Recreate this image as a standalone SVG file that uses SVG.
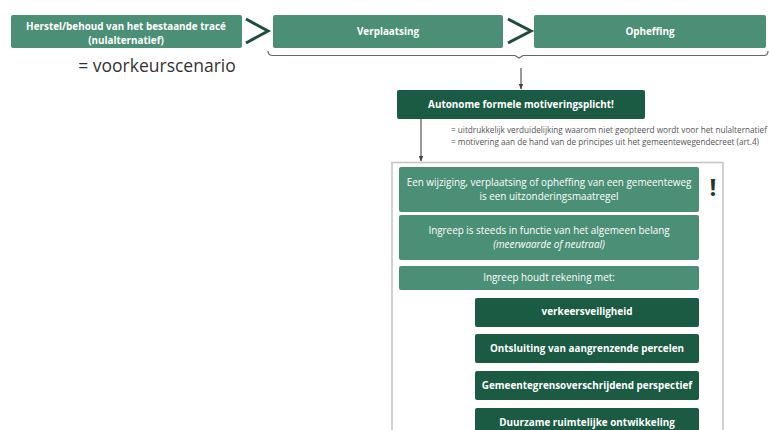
<svg xmlns="http://www.w3.org/2000/svg" width="769" height="430" viewBox="0 0 769 430">
<defs>
<style>
.mid{fill:#4b8f77;}
.dark{fill:#1b5a43;}
.t{font-family:"Open Sans","Liberation Sans",sans-serif;fill:#ffffff;text-anchor:middle;}
.b{font-weight:bold;font-size:9.9px;}
.r{font-size:9.9px;}
.small{font-family:"Open Sans","Liberation Sans",sans-serif;font-size:8.2px;fill:#555;}
.gt{fill:none;stroke:#1f4d3c;stroke-width:3;}
.con{fill:none;stroke:#555;stroke-width:1.2;}
</style>
<marker id="ah" viewBox="0 0 10 10" refX="9" refY="5" markerWidth="6" markerHeight="6" orient="auto" markerUnits="userSpaceOnUse">
<path d="M0,1 L10,5 L0,9 z" fill="#444"/>
</marker>
</defs>
<rect width="769" height="430" fill="#ffffff"/>

<g id="herstel">
<rect class="mid" x="11" y="15" width="231" height="33" rx="2"/>
<text class="t b" x="126" y="29.5">Herstel/behoud van het bestaande tracé</text>
<text class="t b" x="126" y="43.5">(nulalternatief)</text>
</g>
<g id="voorkeur">
<text x="157" y="72" font-family="'Open Sans','Liberation Sans',sans-serif" font-size="17.5" fill="#333" text-anchor="middle">= voorkeurscenario</text>
</g>
<g id="gt1"><path class="gt" d="M246,19 L268,31 L246,43"/></g>
<g id="verplaatsing">
<rect class="mid" x="273" y="15" width="230" height="33" rx="2"/>
<text class="t b" x="388" y="35">Verplaatsing</text>
</g>
<g id="gt2"><path class="gt" d="M508,19 L531,31 L508,43"/></g>
<g id="opheffing">
<rect class="mid" x="534" y="15" width="232" height="33" rx="2"/>
<text class="t b" x="650" y="35">Opheffing</text>
</g>

<g id="connectors">
<path d="M268,51 Q268,55.5 273,55.5 L515,55.5 L519,58 L523,55.5 L764,55.5 Q768,55.5 768,51" fill="none" stroke="#666" stroke-width="1.2"/>
<line class="con" x1="521" y1="68" x2="521" y2="89" marker-end="url(#ah)"/>
<line class="con" x1="421" y1="119" x2="421" y2="161" marker-end="url(#ah)"/>
</g>

<g id="autonome">
<rect class="dark" x="397" y="90" width="248" height="29" rx="2"/>
<text class="t b" x="521" y="108">Autonome formele motiveringsplicht!</text>
</g>
<g id="toelichting">
<text class="small" x="451" y="133">= uitdrukkelijk verduidelijking waarom niet geopteerd wordt voor het nulalternatief</text>
<text class="small" x="451" y="145">= motivering aan de hand van de principes uit het gemeentewegendecreet (art.4)</text>
</g>

<g id="container">
<path d="M392,432 L392,162.5 L723,162.5 L723,432" fill="none" stroke="#c4c4c4" stroke-width="1.5"/>
</g>

<g id="uitzondering">
<rect class="mid" x="399" y="167" width="300" height="45" rx="2"/>
<text class="t r" x="549" y="186">Een wijziging, verplaatsing of opheffing van een gemeenteweg</text>
<text class="t r" x="549" y="200">is een uitzonderingsmaatregel</text>
</g>
<g id="uitroep">
<text x="713" y="196" font-family="'Open Sans','Liberation Sans',sans-serif" font-weight="bold" font-size="24" fill="#22382f" text-anchor="middle">!</text>
</g>
<g id="belang">
<rect class="mid" x="399" y="215" width="300" height="45" rx="2"/>
<text class="t r" x="549" y="234">Ingreep is steeds in functie van het algemeen belang</text>
<text class="t r" x="549" y="248" font-style="italic">(meerwaarde of neutraal)</text>
</g>
<g id="rekening">
<rect class="mid" x="399" y="266" width="300" height="24" rx="2"/>
<text class="t r" x="549" y="281">Ingreep houdt rekening met:</text>
</g>
<g id="verkeersveiligheid">
<rect class="dark" x="475" y="298" width="224" height="29" rx="2"/>
<text class="t b" x="587" y="315">verkeersveiligheid</text>
</g>
<g id="ontsluiting">
<rect class="dark" x="475" y="334" width="224" height="29" rx="2"/>
<text class="t b" x="587" y="352">Ontsluiting van aangrenzende percelen</text>
</g>
<g id="gemeentegrens">
<rect class="dark" x="475" y="371" width="224" height="29" rx="2"/>
<text class="t b" x="587" y="389">Gemeentegrensoverschrijdend perspectief</text>
</g>
<g id="duurzame">
<rect class="dark" x="475" y="408" width="224" height="29" rx="2"/>
<text class="t b" x="587" y="426">Duurzame ruimtelijke ontwikkeling</text>
</g>
</svg>
